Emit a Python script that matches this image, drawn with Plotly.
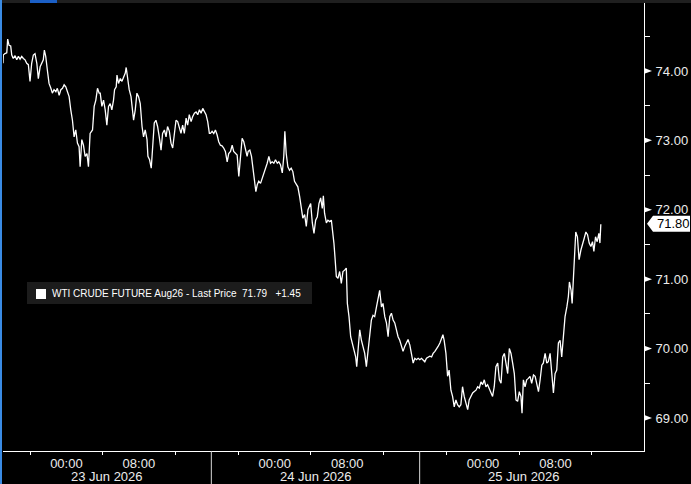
import plotly.graph_objects as go
import pandas as pd

# ---------------- data ----------------
# trading minutes since session start 2026-06-22 17:00 (each session = 23h, 1h daily break 16:00-17:00)
minutes = [
    0, 2, 13, 25, 31, 40, 51, 58, 68, 80,
    91, 102, 113, 124, 135, 146, 157, 168, 179, 190,
    201, 212, 224, 234, 246, 257, 267, 274, 283, 294,
    305, 317, 327, 338, 350, 360, 372, 383, 394, 405,
    416, 427, 438, 449, 460, 471, 482, 493, 504, 511,
    522, 533, 544, 556, 566, 577, 593, 604, 615, 626,
    637, 644, 655, 666, 677, 688, 699, 710, 721, 732,
    739, 750, 755, 765, 777, 788, 798, 810, 816, 825,
    836, 848, 858, 865, 876, 887, 898, 909, 921, 931,
    942, 954, 960, 971, 982, 991, 1002, 1013, 1024, 1035,
    1047, 1057, 1069, 1080, 1090, 1102, 1113, 1124, 1135, 1146,
    1157, 1168, 1179, 1190, 1201, 1213, 1223, 1234, 1246, 1256,
    1268, 1279, 1290, 1301, 1312, 1323, 1334, 1345, 1356, 1367,
    1374, 1385, 1396, 1407, 1418, 1429, 1440, 1451, 1462, 1473,
    1485, 1495, 1507, 1518, 1528, 1540, 1551, 1562, 1573, 1584,
    1595, 1606, 1617, 1624, 1635, 1646, 1657, 1668, 1675, 1684,
    1694, 1706, 1717, 1728, 1739, 1750, 1761, 1772, 1783, 1794,
    1805, 1817, 1827, 1838, 1850, 1860, 1867, 1876, 1887, 1898,
    1909, 1920, 1931, 1943, 1953, 1965, 1976, 1986, 1998, 2009,
    2020, 2031, 2038, 2049, 2060, 2071, 2082, 2093, 2104, 2115,
    2122, 2130, 2142, 2152, 2164, 2175, 2186, 2192, 2199, 2208,
    2219, 2230, 2241, 2252, 2263, 2274, 2281, 2292, 2303, 2314,
    2325, 2336, 2343, 2352, 2363, 2374, 2385, 2396, 2407, 2418,
    2429, 2440, 2451, 2462, 2474, 2484, 2495, 2507, 2517, 2529,
    2540, 2551, 2562, 2573, 2584, 2595, 2606, 2617, 2628, 2639,
    2650, 2661, 2673, 2683, 2695, 2706, 2717, 2728, 2739, 2750,
    2761, 2772, 2783, 2794, 2805, 2816, 2827, 2839, 2849, 2861,
    2872, 2882, 2894, 2905, 2914, 2922, 2934, 2945, 2955, 2967,
    2978, 2989, 3000, 3011, 3022, 3033, 3044, 3055, 3066, 3078,
    3088, 3099, 3111, 3122, 3133, 3144, 3155, 3166, 3177, 3188,
    3199, 3210, 3221, 3232, 3243, 3254, 3265, 3277, 3288, 3299,
    3310, 3321, 3332, 3343, 3354, 3365, 3376, 3387, 3398, 3409,
    3420, 3431, 3438, 3447, 3458, 3469, 3480, 3491, 3502, 3514,
    3525, 3536, 3547, 3558, 3569, 3579, 3591, 3602, 3612, 3624,
    3635, 3646, 3657, 3668, 3679, 3690, 3701, 3712, 3723, 3735,
    3745, 3752, 3763, 3770, 3776, 3785, 3794, 3805, 3816, 3828,
    3838, 3850, 3861, 3872, 3883, 3894, 3905, 3914, 3925, 3936,
    3947, 3954, 3960,
]

prices = [
    74.11, 74.23, 74.25, 74.26, 74.46, 74.37, 74.36, 74.23, 74.18, 74.22,
    74.16, 74.21, 74.17, 74.21, 74.18, 74.16, 74.11, 74.09, 73.85, 74.11,
    74.23, 74.25, 74.11, 73.89, 74.06, 74.11, 74.16, 74.30, 74.21, 74.01,
    73.82, 73.75, 73.68, 73.73, 73.70, 73.75, 73.65, 73.73, 73.75, 73.80,
    73.77, 73.70, 73.63, 73.44, 73.29, 73.05, 73.15, 72.96, 72.91, 72.62,
    73.01, 72.93, 72.77, 72.81, 72.62, 73.10, 73.15, 73.49, 73.58, 73.75,
    73.68, 73.68, 73.49, 73.58, 73.44, 73.22, 73.49, 73.53, 73.44, 73.58,
    73.73, 73.77, 73.94, 73.82, 73.89, 73.85, 73.92, 73.97, 74.05, 73.92,
    73.73, 73.63, 73.44, 73.29, 73.44, 73.68, 73.63, 73.53, 73.20, 73.05,
    73.15, 73.01, 72.77, 72.72, 72.60, 72.96, 73.25, 73.29, 73.20, 73.05,
    72.86, 73.10, 73.15, 73.05, 73.20, 73.13, 72.96, 72.89, 73.10, 73.29,
    73.27, 73.20, 73.10, 73.22, 73.10, 73.32, 73.22, 73.37, 73.27, 73.34,
    73.39, 73.41, 73.37, 73.44, 73.39, 73.46, 73.41, 73.37, 73.27, 73.10,
    73.10, 73.13, 73.10, 73.15, 73.08, 72.98, 72.93, 72.92, 72.89, 72.84,
    72.69, 72.81, 72.84, 72.93, 72.84, 72.81, 72.79, 72.48, 72.77, 73.03,
    72.98, 72.86, 72.77, 72.84, 72.86, 72.77, 72.57, 72.41, 72.26, 72.36,
    72.41, 72.38, 72.45, 72.53, 72.57, 72.67, 72.77, 72.67, 72.69, 72.67,
    72.72, 72.67, 72.69, 72.65, 72.53, 72.77, 73.13, 72.81, 72.62, 72.57,
    72.60, 72.55, 72.41, 72.36, 72.33, 72.19, 72.02, 71.88, 71.93, 71.76,
    72.00, 72.07, 72.09, 71.81, 71.66, 71.85, 71.90, 72.09, 72.17, 72.02,
    72.20, 71.95, 71.81, 71.85, 71.83, 71.85, 71.66, 71.52, 71.32, 71.04,
    71.01, 71.11, 70.94, 71.11, 71.13, 71.16, 70.65, 70.46, 70.17, 70.08,
    69.98, 69.88, 69.74, 69.98, 70.27, 70.12, 70.03, 69.93, 69.74, 69.98,
    70.27, 70.41, 70.48, 70.46, 70.60, 70.70, 70.84, 70.60, 70.65, 70.46,
    70.37, 70.17, 70.46, 70.51, 70.41, 70.37, 70.27, 70.17, 70.12, 70.02,
    69.96, 70.03, 70.08, 70.13, 70.05, 69.93, 69.79, 69.86, 69.84, 69.86,
    69.84, 69.86, 69.84, 69.81, 69.86, 69.88, 69.89, 69.88, 69.93, 69.96,
    69.99, 70.03, 70.08, 70.15, 70.20, 70.12, 69.93, 69.60, 69.69, 69.40,
    69.31, 69.16, 69.26, 69.19, 69.16, 69.19, 69.45, 69.31, 69.21, 69.12,
    69.26, 69.31, 69.36, 69.38, 69.40, 69.45, 69.43, 69.52, 69.48, 69.55,
    69.45, 69.48, 69.43, 69.38, 69.31, 69.45, 69.74, 69.79, 69.55, 69.50,
    69.88, 69.93, 69.79, 69.64, 70.00, 69.93, 69.79, 69.64, 69.26, 69.24,
    69.38, 69.31, 69.07, 69.55, 69.45, 69.55, 69.57, 69.60, 69.50, 69.62,
    69.60, 69.50, 69.38, 69.55, 69.76, 69.79, 69.93, 69.79, 69.81, 69.93,
    69.69, 69.36, 69.64, 69.69, 70.08, 70.12, 69.88, 70.12, 70.46, 70.60,
    70.75, 70.96, 70.84, 70.65, 70.89, 71.28, 71.68, 71.61, 71.28, 71.42,
    71.52, 71.59, 71.68, 71.64, 71.52, 71.47, 71.54, 71.40, 71.61, 71.54,
    71.66, 71.52, 71.79,
]

series_name = "WTI CRUDE FUTURE Aug26 - Last Price"
last_price = 71.79
net_change = 1.45
badge_value = 71.80

session_start = "2026-06-22 17:00"
session_minutes = 1380
y_ticks = [69, 70, 71, 72, 73, 74]
x_label_times = ["2026-06-23 00:00", "2026-06-23 08:00", "2026-06-24 00:00",
                 "2026-06-24 08:00", "2026-06-25 00:00", "2026-06-25 08:00"]
x_label_text = ["00:00", "08:00", "00:00", "08:00", "00:00", "08:00"]
x_mark_times = ["2026-06-22 20:00", "2026-06-23 04:00", "2026-06-23 12:00",
                "2026-06-23 20:00", "2026-06-24 04:00", "2026-06-24 12:00",
                "2026-06-24 20:00", "2026-06-25 04:00", "2026-06-25 12:00",
                "2026-06-25 16:00"]
session_ends = ["2026-06-23 16:00", "2026-06-24 16:00"]
day_labels = ["23 Jun 2026", "24 Jun 2026", "25 Jun 2026"]
day_label_times = ["2026-06-23 04:30", "2026-06-24 04:30", "2026-06-25 04:30"]
x_range = ["2026-06-22 17:00", "2026-06-25 18:46"]
y_range = [68.524, 74.979]

# ---------------- build timestamps ----------------
base = pd.Timestamp(session_start)
times = [base + pd.Timedelta(minutes=m + 60 * (m // session_minutes)) for m in minutes]

W, H = 691, 484
L, R, T, B = 3, 47, 3, 33
PW, PH = W - L - R, H - T - B


def px(x):
    return (x - L) / PW


def py(y):
    return (H - B - y) / PH


FONT = "Liberation Sans, Arial, sans-serif"
TXT = "#ececec"

fig = go.Figure()
fig.add_trace(go.Scatter(x=times, y=prices, mode="lines",
                         line=dict(color="#ffffff", width=1.3),
                         showlegend=False, hoverinfo="skip"))

shapes = []
# top strip
shapes.append(dict(type="rect", xref="paper", yref="paper", x0=px(0), x1=px(W),
                   y0=py(3), y1=py(0), fillcolor="#1f1f1f", line=dict(width=0), layer="above"))
shapes.append(dict(type="rect", xref="paper", yref="paper", x0=px(30), x1=px(57),
                   y0=py(3), y1=py(0), fillcolor="#1b5fc6", line=dict(width=0), layer="above"))
# left blue strip
shapes.append(dict(type="rect", xref="paper", yref="paper", x0=px(0), x1=px(2),
                   y0=py(H), y1=py(0), fillcolor="#3a8be4", line=dict(width=0), layer="above"))
# session separators below axis
for s in session_ends:
    shapes.append(dict(type="line", xref="x", yref="paper", x0=s, x1=s,
                       y0=0, y1=py(H), line=dict(color="#d8d8d8", width=1), layer="above"))
# right-axis triangle ticks
hh = 2.6 / (PH / (y_range[1] - y_range[0]))
for v in y_ticks:
    shapes.append(dict(type="path", xref="paper", yref="y",
                       path=f"M {px(L+PW+1)},{v+hh} L {px(L+PW+8)},{v} L {px(L+PW+1)},{v-hh} Z",
                       fillcolor="#ffffff", line=dict(width=0), layer="above"))
# last price badge
bh = 8 / (PH / (y_range[1] - y_range[0]))
shapes.append(dict(type="path", xref="paper", yref="y",
                   path=(f"M {px(653)},{badge_value+bh} L {px(690)},{badge_value+bh} "
                         f"L {px(690)},{badge_value-bh} L {px(653)},{badge_value-bh} "
                         f"L {px(647)},{badge_value} Z"),
                   fillcolor="#ffffff", line=dict(width=0), layer="above"))
# legend box
shapes.append(dict(type="rect", xref="paper", yref="paper", x0=px(27), x1=px(312),
                   y0=py(304), y1=py(282), fillcolor="#1c1c1c", line=dict(width=0), layer="above"))
shapes.append(dict(type="rect", xref="paper", yref="paper", x0=px(36), x1=px(46),
                   y0=py(299), y1=py(289), fillcolor="#ffffff", line=dict(width=0), layer="above"))

annotations = []
for lab, t in zip(day_labels, day_label_times):
    annotations.append(dict(x=t, xref="x", y=py(477), yref="paper", text=lab,
                            showarrow=False, xanchor="center", yanchor="middle",
                            font=dict(family=FONT, size=13, color=TXT)))
annotations.append(dict(x=px(655), xref="paper", y=badge_value, yref="y",
                        text=f"{badge_value:.2f}", showarrow=False,
                        xanchor="left", yanchor="middle",
                        font=dict(family=FONT, size=13, color="#000000")))
nb = "\u00a0"
legend_text = f"{series_name}{nb}{nb}{last_price:.2f}{nb}{nb}{nb}{net_change:+.2f}"
annotations.append(dict(x=px(50), xref="paper", y=py(293.5), yref="paper",
                        text=legend_text, showarrow=False, xanchor="left", yanchor="middle",
                        font=dict(family=FONT, size=10, color="#ffffff")))

fig.update_layout(
    width=W, height=H,
    margin=dict(l=L, r=R, t=T, b=B, pad=0),
    paper_bgcolor="#000000", plot_bgcolor="#000000",
    font=dict(family=FONT, size=13, color=TXT),
    shapes=shapes, annotations=annotations,
    showlegend=False,
    xaxis=dict(
        type="date", range=x_range,
        rangebreaks=[dict(pattern="hour", bounds=[16, 17])],
        showgrid=False, zeroline=False,
        showline=True, linecolor="#ffffff", linewidth=1,
        tickmode="array", tickvals=x_label_times, ticktext=x_label_text,
        ticks="",
        tickfont=dict(family=FONT, size=13, color=TXT),
        minor=dict(tickmode="array", tickvals=x_mark_times, ticks="outside",
                   ticklen=3, tickcolor="#ffffff", tickwidth=1, showgrid=False),
    ),
    yaxis=dict(
        side="right", range=y_range,
        showgrid=False, zeroline=False,
        showline=True, linecolor="#ffffff", linewidth=1,
        tickmode="array", tickvals=y_ticks, ticktext=[f"{v:.2f}" for v in y_ticks],
        ticks="outside", ticklen=8, tickcolor="rgba(0,0,0,0)",
        tickfont=dict(family=FONT, size=13, color=TXT),
        minor=dict(tickmode="array", tickvals=[v + 0.5 for v in y_ticks],
                   ticks="outside", ticklen=5, tickcolor="#ffffff", tickwidth=1,
                   showgrid=False),
    ),
)

fig.write_html("out.html",
               config={"displayModeBar": False},
               post_script="document.body.style.margin='0';document.body.style.background='#000';")
